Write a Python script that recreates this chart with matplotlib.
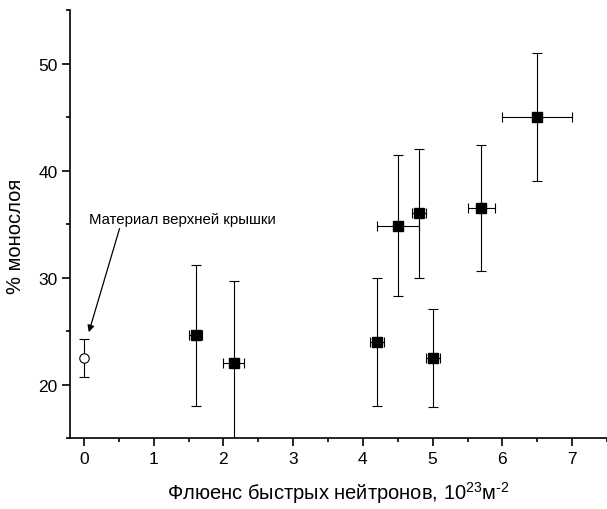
import numpy as np
import matplotlib
matplotlib.use('Agg')
import matplotlib.pyplot as plt
from matplotlib.ticker import MultipleLocator

plt.rcParams['font.family'] = ['Liberation Sans', 'DejaVu Sans']
plt.rcParams['mathtext.fontset'] = 'custom'
plt.rcParams['mathtext.rm'] = 'Liberation Sans'
plt.rcParams['mathtext.it'] = 'Liberation Sans:italic'

# irradiated samples
fluence = [1.6, 2.15, 4.2, 4.5, 4.8, 5.0, 5.7, 6.5]
fluence_err = [0.1, 0.15, 0.1, 0.3, 0.1, 0.1, 0.2, 0.5]
monolayer = [24.6, 22.0, 24.0, 34.85, 36.0, 22.5, 36.5, 45.0]
monolayer_err = [6.6, 7.7, 6.0, 6.6, 6.0, 4.6, 5.9, 6.0]

# top lid material (unirradiated)
lid_x = [0.0]
lid_y = [22.5]
lid_err = [1.8]

fig = plt.figure(figsize=(6.07, 5.10), dpi=100)
ax = fig.add_axes([0.1153, 0.139, 0.8847, 0.839])

ax.errorbar(fluence, monolayer, xerr=fluence_err, yerr=monolayer_err,
            fmt='s', color='black', ms=6.5, elinewidth=0.8, capsize=3.3,
            capthick=0.8)
ax.errorbar(lid_x, lid_y, yerr=lid_err, fmt='o', mfc='white', mec='black',
            color='black', ms=6.8, mew=0.8, elinewidth=0.8, capsize=3.3,
            capthick=0.8)

ax.annotate('Материал верхней крышки', xy=(0.07, 24.9), xytext=(0.067, 35.5),
            fontsize=10.8, ha='left', va='center',
            arrowprops=dict(arrowstyle='-|>', color='black', lw=0.9,
                            shrinkA=0, shrinkB=0, mutation_scale=10,
                            relpos=(0.17, 0.0)))

ax.set_xlim(-0.2, 7.5)
ax.set_ylim(15, 55)
ax.xaxis.set_major_locator(MultipleLocator(1))
ax.xaxis.set_minor_locator(MultipleLocator(0.5))
ax.yaxis.set_minor_locator(MultipleLocator(5))
ax.set_yticks([20, 30, 40, 50])

for s in ['top', 'right']:
    ax.spines[s].set_visible(False)
for s in ['left', 'bottom']:
    ax.spines[s].set_linewidth(1.2)

ax.tick_params(which='major', direction='out', length=5.5, width=1.2,
               labelsize=12.5)
ax.tick_params(which='minor', direction='out', length=3, width=1.2)

ax.set_xlabel(r'Флюенс быстрых нейтронов, 10$^{23}$м$^{\text{-}2}$', fontsize=14.5,
              labelpad=10)
ax.set_ylabel('% монослоя', fontsize=14.5)
ax.yaxis.set_label_coords(-0.084, 0.473)

fig.savefig('out.png', dpi=100)
